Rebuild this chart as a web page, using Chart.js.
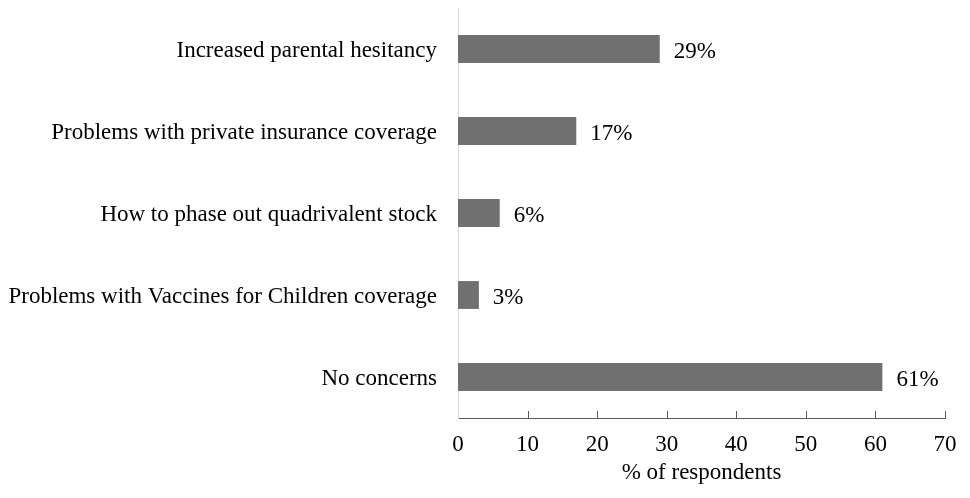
<!DOCTYPE html>
<html>
<head>
<meta charset="utf-8">
<script src="https://cdn.jsdelivr.net/npm/chart.js@4"></script>
<style>
  html, body { margin: 0; padding: 0; background: #fff; }
  #wrap { width: 970px; height: 498px; }
</style>
</head>
<body>
<div id="wrap"><canvas id="barChart"></canvas></div>
<script>
const labels = [
  'Increased parental hesitancy',
  'Problems with private insurance coverage',
  'How to phase out quadrivalent stock',
  'Problems with Vaccines for Children coverage',
  'No concerns'
]
const percents = [29, 17, 6, 3, 61]
const xTicks = [0, 10, 20, 30, 40, 50, 60, 70]

let colors = {
  BAR: '#707070',
  AXIS: '#595959',
  LIGHT: '#d9d9d9'
}
const FONT = '"Liberation Serif", "Times New Roman", serif'

// small ticks pointing up from the x axis
const innerTicks = {
  id: 'innerTicks',
  afterDraw(chart) {
    const ctx = chart.ctx
    const x = chart.scales.x
    const bottom = chart.chartArea.bottom
    ctx.save()
    ctx.strokeStyle = colors.AXIS
    ctx.lineWidth = 1
    xTicks.forEach(v => {
      if (v === 0) return
      const px = Math.round(x.getPixelForValue(v)) + 0.5
      ctx.beginPath()
      ctx.moveTo(px, bottom)
      ctx.lineTo(px, bottom - 7)
      ctx.stroke()
    })
    ctx.restore()
  }
}

// percent labels right of the bars
const valueLabels = {
  id: 'valueLabels',
  afterDatasetsDraw(chart) {
    const ctx = chart.ctx
    const meta = chart.getDatasetMeta(0)
    ctx.save()
    ctx.fillStyle = '#000'
    ctx.font = '23px ' + FONT
    ctx.textBaseline = 'middle'
    meta.data.forEach((bar, i) => {
      ctx.fillText(percents[i] + '%', bar.x + 14, bar.y + 3)
    })
    ctx.restore()
  }
}

new Chart(document.getElementById('barChart'), {
  type: 'bar',
  data: {
    labels: labels,
    datasets: [{
      data: percents,
      backgroundColor: colors.BAR,
      borderWidth: 0,
      barPercentage: 0.68,
      categoryPercentage: 0.5
    }]
  },
  options: {
    indexAxis: 'y',
    responsive: true,
    maintainAspectRatio: false,
    animation: false,
    layout: { padding: { top: 8, right: 25, left: 0, bottom: 11 } },
    plugins: {
      legend: { display: false },
      tooltip: { enabled: false }
    },
    scales: {
      x: {
        min: 0,
        max: 70,
        afterBuildTicks: scale => { scale.ticks = xTicks.map(v => ({ value: v })) },
        afterFit: scale => { scale.height = 69 },
        grid: { display: false, drawTicks: false },
        border: { color: colors.AXIS, width: 1 },
        ticks: { color: '#000', font: { family: FONT, size: 23 }, padding: 13, maxRotation: 0 },
        title: {
          display: true,
          text: '% of respondents',
          color: '#000',
          font: { family: FONT, size: 23 },
          padding: { top: 0, bottom: 0 }
        }
      },
      y: {
        afterFit: scale => {
          scale.width = 458
          scale.paddingTop = 0
          scale.paddingBottom = 0
        },
        grid: { display: false, drawTicks: false },
        border: { color: colors.LIGHT, width: 1 },
        ticks: { color: '#000', font: { family: FONT, size: 23 }, padding: 21, labelOffset: 2 }
      }
    }
  },
  plugins: [innerTicks, valueLabels]
})
</script>
</body>
</html>
